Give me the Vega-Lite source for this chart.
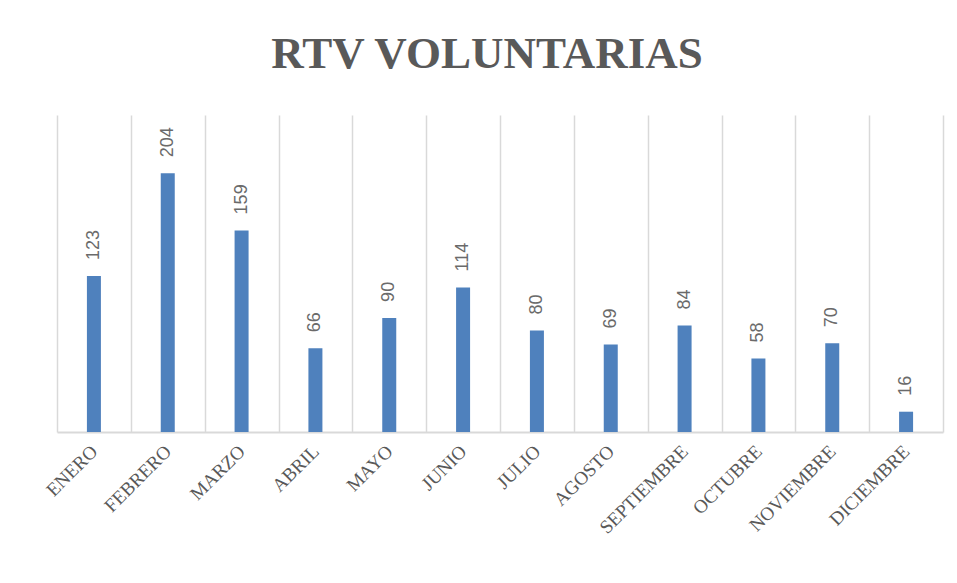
{
  "$schema": "https://vega.github.io/schema/vega-lite/v6.json",
  "width": 886,
  "height": 317,
  "autosize": {"type": "none"},
  "padding": {"left": 57, "top": 115, "right": 14, "bottom": 151},
  "background": "white",
  "title": {
    "text": "RTV VOLUNTARIAS",
    "font": "Liberation Serif",
    "fontSize": 45,
    "fontWeight": "bold",
    "color": "#595959",
    "anchor": "middle",
    "dx": -13,
    "offset": 38
  },
  "data": {
    "values": [
      {"mes": "ENERO", "valor": 123},
      {"mes": "FEBRERO", "valor": 204},
      {"mes": "MARZO", "valor": 159},
      {"mes": "ABRIL", "valor": 66},
      {"mes": "MAYO", "valor": 90},
      {"mes": "JUNIO", "valor": 114},
      {"mes": "JULIO", "valor": 80},
      {"mes": "AGOSTO", "valor": 69},
      {"mes": "SEPTIEMBRE", "valor": 84},
      {"mes": "OCTUBRE", "valor": 58},
      {"mes": "NOVIEMBRE", "valor": 70},
      {"mes": "DICIEMBRE", "valor": 16}
    ]
  },
  "encoding": {
    "x": {
      "field": "mes",
      "type": "nominal",
      "sort": null,
      "scale": {"paddingInner": 0, "paddingOuter": 0},
      "axis": {
        "title": null,
        "tickBand": "extent",
        "grid": true,
        "gridColor": "#d9d9d9",
        "gridWidth": 1.5,
        "ticks": false,
        "domainColor": "#d9d9d9",
        "domainWidth": 2,
        "labelAngle": -45,
        "labelAlign": "right",
        "labelBaseline": "middle",
        "labelPadding": 16,
        "labelColor": "#595959",
        "labelFont": "Liberation Serif",
        "labelFontSize": 19
      }
    },
    "y": {
      "field": "valor",
      "type": "quantitative",
      "scale": {"domain": [0, 250], "nice": false},
      "axis": null
    }
  },
  "layer": [
    {"mark": {"type": "bar", "size": 14, "color": "#4f81bd"}},
    {
      "mark": {
        "type": "text",
        "angle": 270,
        "align": "left",
        "baseline": "middle",
        "dx": 16,
        "font": "Liberation Sans",
        "fontSize": 18,
        "color": "#6a6a6a"
      },
      "encoding": {"text": {"field": "valor", "type": "quantitative"}}
    }
  ],
  "config": {"view": {"stroke": null}}
}
